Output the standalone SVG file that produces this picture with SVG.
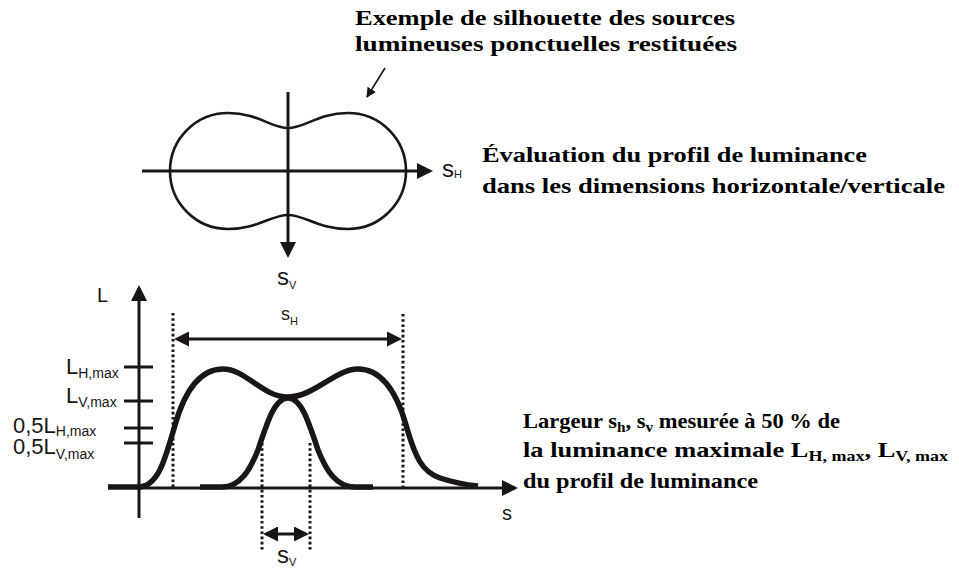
<svg xmlns="http://www.w3.org/2000/svg" width="959" height="568" viewBox="0 0 959 568">
<style>
.ln{stroke:#1a1616;stroke-width:3;fill:none}
.thin{stroke:#1a1616;stroke-width:1.6;fill:none}
.curve{stroke:#1a1616;stroke-width:5.5;fill:none;stroke-linejoin:round}
.dot{stroke:#1a1616;stroke-width:3;fill:none;stroke-dasharray:2.6 2.6}
.sil{stroke:#1a1616;stroke-width:2.6;fill:none}
.sans{font-family:"Liberation Sans",Arial,sans-serif;fill:#1a1616}
.serif{font-family:"Liberation Serif","Times New Roman",serif;font-weight:bold;fill:#000}
</style>
<defs>
<marker id="ah" viewBox="0 0 16 16" refX="13" refY="8" markerWidth="16" markerHeight="16" markerUnits="userSpaceOnUse" orient="auto-start-reverse">
<path d="M0,0 L16,8 L0,16 z" fill="#1a1616"/>
</marker>
<marker id="ahm" viewBox="0 0 15 15" refX="12" refY="7.5" markerWidth="15" markerHeight="15" markerUnits="userSpaceOnUse" orient="auto-start-reverse">
<path d="M0,0 L15,7.5 L0,15 z" fill="#1a1616"/>
</marker>
<marker id="ahs" viewBox="0 0 10 10" refX="9" refY="5" markerWidth="10" markerHeight="10" markerUnits="userSpaceOnUse" orient="auto">
<path d="M0,0 L10,5 L0,10 z" fill="#1a1616"/>
</marker>
</defs>

<g id="silhouette">
<path class="sil" d="M288,128 C305,128 318,113 348,113 A58,58 0 0 1 348,229 C318,229 305,215 288,215 C271,215 258,229 228,229 A58,58 0 0 1 228,113 C258,113 271,128 288,128 Z"/>
</g>

<g id="profile-h">
<path class="curve" d="M108,487 L138,487 C158,487 165,460 175,425 C185,390 200,369 223,369 C246,369 262,397 288,397 C314,397 335,369 358,369 C381,369 396,390 406,425 C416,460 423,472 440,478 C455,483 468,485 478,486"/>
</g>
<g id="profile-v">
<path class="curve" d="M200,487 L222,487 C240,487 250,470 258,450 C268,420 275,398 288,398 C301,398 308,420 318,450 C326,470 336,487 355,487 L373,487"/>
</g>

<g id="connectors">
<line class="ln" x1="142" y1="171" x2="430" y2="171" marker-end="url(#ah)"/>
<line class="ln" x1="288" y1="92" x2="288" y2="255" marker-end="url(#ah)"/>
<line class="thin" x1="385" y1="68" x2="367" y2="97" marker-end="url(#ahs)"/>
<line class="ln" x1="139" y1="518" x2="139" y2="288" marker-end="url(#ah)"/>
<line class="ln" x1="138" y1="488" x2="515" y2="488" marker-end="url(#ah)"/>
<line class="ln" x1="177" y1="339" x2="399" y2="339" marker-start="url(#ahm)" marker-end="url(#ahm)"/>
<line class="ln" x1="266" y1="534" x2="306" y2="534" marker-start="url(#ahm)" marker-end="url(#ahm)"/>
<line class="dot" x1="173" y1="313" x2="173" y2="488"/>
<line class="dot" x1="403" y1="314" x2="403" y2="488"/>
<line class="dot" x1="262" y1="443" x2="262" y2="550"/>
<line class="dot" x1="310" y1="443" x2="310" y2="550"/>
<line class="ln" x1="124" y1="367" x2="153" y2="367"/>
<line class="ln" x1="124" y1="401" x2="153" y2="401"/>
<line class="ln" x1="124" y1="428" x2="153" y2="428"/>
<line class="ln" x1="124" y1="443" x2="153" y2="443"/>
</g>

<g id="axis-labels">
<text class="sans" x="442" y="177" font-size="24">s<tspan font-size="11" dy="1">H</tspan></text>
<text class="sans" x="277" y="285" font-size="24">s<tspan font-size="11" dy="4">V</tspan></text>
<text class="sans" x="281" y="320" font-size="18">s<tspan font-size="11" dy="5">H</tspan></text>
<text class="sans" x="277" y="563" font-size="24">s<tspan font-size="11" dy="3">V</tspan></text>
<text class="sans" x="502" y="520" font-size="20">s</text>
<text class="sans" x="97" y="302" font-size="20">L</text>
<text class="sans" x="66" y="374" font-size="22">L<tspan font-size="14" dy="4">H,max</tspan></text>
<text class="sans" x="66" y="403" font-size="22">L<tspan font-size="14" dy="4">V,max</tspan></text>
<text class="sans" x="13" y="433" font-size="22">0,5L<tspan font-size="14" dy="3">H,max</tspan></text>
<text class="sans" x="13" y="454" font-size="22">0,5L<tspan font-size="14" dy="5">V,max</tspan></text>
</g>

<g id="note-silhouette">
<text class="serif" x="355" y="25" font-size="21" textLength="380" lengthAdjust="spacingAndGlyphs">Exemple de silhouette des sources</text>
<text class="serif" x="355" y="51" font-size="21" textLength="382" lengthAdjust="spacingAndGlyphs">lumineuses ponctuelles restituées</text>
</g>
<g id="note-evaluation">
<text class="serif" x="482" y="162" font-size="21" textLength="385" lengthAdjust="spacingAndGlyphs">Évaluation du profil de luminance</text>
<text class="serif" x="482" y="193" font-size="21" textLength="463" lengthAdjust="spacingAndGlyphs">dans les dimensions horizontale/verticale</text>
</g>
<g id="note-width">
<text class="serif" x="523" y="428" font-size="22" textLength="317" lengthAdjust="spacingAndGlyphs">Largeur s<tspan font-size="15" dy="4">h</tspan><tspan dy="-4">, s</tspan><tspan font-size="15" dy="4">v</tspan><tspan dy="-4"> mesurée à 50 % de</tspan></text>
<text class="serif" x="523" y="457" font-size="22" textLength="425" lengthAdjust="spacingAndGlyphs">la luminance maximale L<tspan font-size="15" dy="4">H, max</tspan><tspan dy="-4">, L</tspan><tspan font-size="15" dy="4">V, max</tspan></text>
<text class="serif" x="523" y="488" font-size="22" textLength="235" lengthAdjust="spacingAndGlyphs">du profil de luminance</text>
</g>
</svg>
